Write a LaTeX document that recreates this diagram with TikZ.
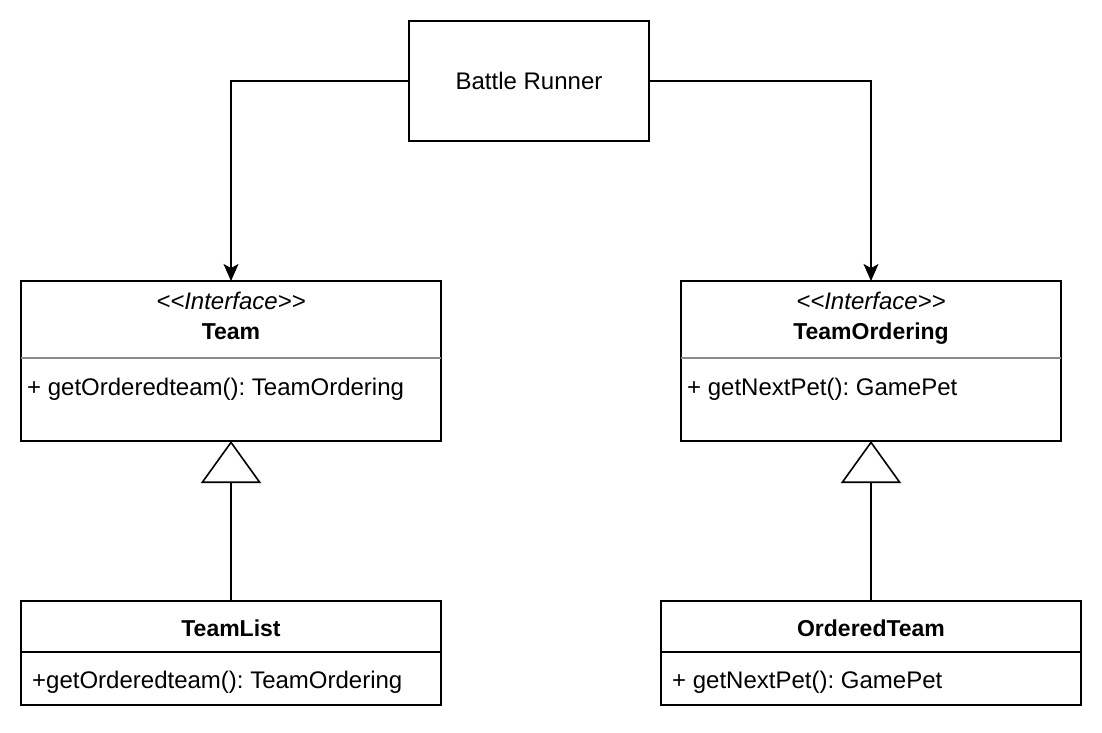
\documentclass[tikz,border=0pt]{standalone}
\usepackage{fontspec}
\setmainfont{Liberation Sans}
\usetikzlibrary{arrows.meta}
\frenchspacing
\begin{document}
\begin{tikzpicture}[x=1pt,y=-1pt,
  box/.style={draw=black,line width=1.6pt,fill=white,inner sep=0pt,outer sep=0pt,anchor=north west},
  sepgray/.style={draw=black!45,line width=1.2pt},
  sepblack/.style={draw=black,line width=1.6pt},
  conn/.style={draw=black,line width=1.6pt},
  lbl/.style={anchor=base,inner sep=0pt,font=\fontsize{24}{28}\selectfont},
  lblb/.style={anchor=base,inner sep=0pt,font=\fontsize{23}{28}\selectfont\bfseries},
  lbli/.style={anchor=base,inner sep=0pt,font=\fontsize{24}{28}\selectfont\itshape},
  meth/.style={anchor=base west,inner sep=0pt,font=\fontsize{24}{28}\selectfont},
  assoc/.style={conn,-{Stealth[length=17pt,width=15pt,inset=4pt]}},
  inherit/.style={conn,-{Triangle[open,length=42pt,width=60pt,fill=white]}}
]
\useasboundingbox (0,0) rectangle (1102,732);
\fill[white] (0,0) rectangle (1102,732);

% boxes
\node[box,minimum width=240pt,minimum height=120pt] (runner) at (409,21) {};
\node[box,minimum width=420pt,minimum height=160pt] (team) at (21,281) {};
\node[box,minimum width=380pt,minimum height=160pt] (ordering) at (681,281) {};
\node[box,minimum width=420pt,minimum height=104pt] (teamlist) at (21,601) {};
\node[box,minimum width=420pt,minimum height=104pt] (orderedteam) at (661,601) {};

% separators
\draw[sepgray] ([yshift=-77pt]team.north west) -- ([yshift=-77pt]team.north east);
\draw[sepgray] ([yshift=-77pt]ordering.north west) -- ([yshift=-77pt]ordering.north east);
\draw[sepblack] ([yshift=-51pt]teamlist.north west) -- ([yshift=-51pt]teamlist.north east);
\draw[sepblack] ([yshift=-51pt]orderedteam.north west) -- ([yshift=-51pt]orderedteam.north east);

% texts
\node[lbl] (runnerlbl) at (529,89) {Battle Runner};
\node[lbli] (teamst) at (231,309) {{<}{<}Interface{>}{>}};
\node[lblb] (teamname) at (231,339) {Team};
\node[meth] (teamm) at (27,395) {+ getOrderedteam(): TeamOrdering};
\node[lbli] (ordst) at (871,309) {{<}{<}Interface{>}{>}};
\node[lblb] (ordname) at (871,339) {TeamOrdering};
\node[meth] (ordm) at (687,395) {+ getNextPet(): GamePet};
\node[lblb] (tlname) at (231,636) {TeamList};
\node[meth] (tlm) at (32,688) {+getOrderedteam(): TeamOrdering};
\node[lblb] (otname) at (871,636) {OrderedTeam};
\node[meth] (otm) at (672,688) {+ getNextPet(): GamePet};

% connectors
\draw[assoc] (runner.west) -| (team.north);
\draw[assoc] (runner.east) -| (ordering.north);
\draw[inherit] (teamlist.north) -- (team.south);
\draw[inherit] (orderedteam.north) -- (ordering.south);
\end{tikzpicture}
\end{document}
